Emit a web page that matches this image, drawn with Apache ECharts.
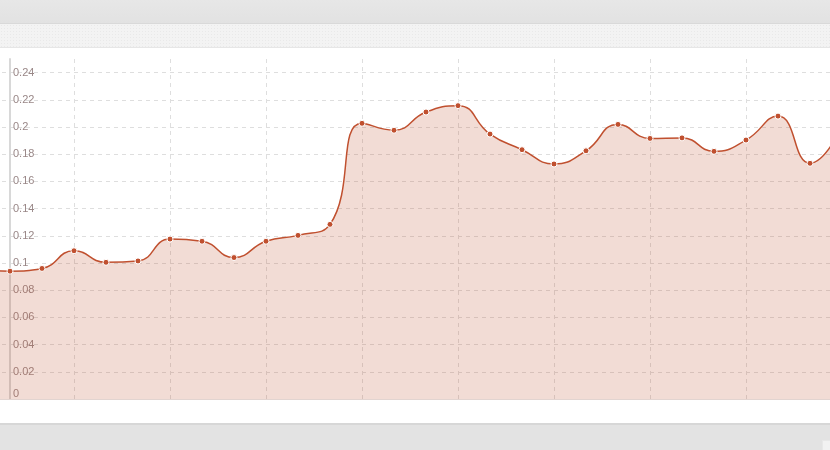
<!DOCTYPE html>
<html>
<head>
<meta charset="utf-8">
<script src="https://cdn.jsdelivr.net/npm/echarts@6/dist/echarts.min.js"></script>
<style>
  html, body { margin: 0; padding: 0; width: 830px; height: 450px; overflow: hidden; background: #fff; }
  #topbar { position: absolute; left: 0; top: 0; width: 830px; height: 23px;
    background: linear-gradient(#e7e7e7, #e2e2e2); border-bottom: 1px solid #d9d9d9; }
  #band { position: absolute; left: 0; top: 24px; width: 830px; height: 23px;
    background-color: #f3f3f3;
    background-image: radial-gradient(#e9e9e9 0.6px, transparent 0.8px);
    background-size: 3px 3px; border-bottom: 1px solid #e6e6e6; }
  #footer { position: absolute; left: 0; top: 423px; width: 830px; height: 27px;
    background: #e3e3e3; border-top: 2px solid #d7d7d7; box-sizing: border-box; }
  #corner { position: absolute; left: 822px; top: 440px; width: 8px; height: 10px;
    background: #f2f2f2; border-left: 1px solid #e8e8e8; border-top: 1px solid #e8e8e8; }
  #viewport { position: absolute; left: 0; top: 48px; width: 830px; height: 374px; overflow: hidden; }
  /* the plot is wider than the view: it starts and ends one period outside */
  #chart { position: absolute; left: -40px; top: -48px; width: 920px; height: 450px; }
</style>
</head>
<body>
<div id="topbar"></div>
<div id="band"></div>
<div id="footer"></div>
<div id="corner"></div>
<div id="viewport"><div id="chart"></div></div>
<script>
// Periods along the horizontal axis (the first and last sit just outside the view)
const categories = ['1', '2', '3', '4', '5', '6', '7', '8', '9', '10', '11', '12', '13', '14',
  '15', '16', '17', '18', '19', '20', '21', '22', '23', '24', '25', '26', '27', '28'];

// Measured rate per period
const values = [0.095, 0.094, 0.096, 0.109, 0.1005, 0.1015, 0.1176, 0.116, 0.104, 0.116,
  0.1203, 0.1284, 0.2027, 0.1976, 0.211, 0.2157, 0.1948, 0.1833, 0.1728, 0.1825,
  0.2019, 0.1916, 0.192, 0.1821, 0.1904, 0.208, 0.1733, 0.2];

// Value axis range and tick step
const yMin = 0;
const yMax = 0.25;
const yStep = 0.02;

const lineColor = '#c0502f';
const gridColor = '#dedede';

const chart = echarts.init(document.getElementById('chart'), null, { renderer: 'canvas' });

// One colour per horizontal split line; the line at the top edge stays hidden
const tickCount = Math.floor((yMax - yMin) / yStep + 1e-9) + 1;
const hLineColors = [];
for (let i = 0; i < tickCount; i++) hLineColors.push(gridColor);
hLineColors.push('rgba(0,0,0,0)');

chart.setOption({
  animation: false,
  grid: { left: 18, width: 864, top: 59, bottom: 51, containLabel: false },
  xAxis: {
    type: 'category',
    data: categories,
    boundaryGap: false,
    axisLine: { show: true, lineStyle: { color: '#e2d4d0', width: 1 } },
    axisTick: { show: false },
    axisLabel: { show: false },
    splitLine: { show: true, interval: 2, lineStyle: { color: gridColor, type: [4, 4], width: 1 } }
  },
  yAxis: {
    type: 'value',
    min: yMin,
    max: yMax,
    interval: yStep,
    offset: -32,
    axisLine: { show: true, lineStyle: { color: '#d8d8d8', width: 2 } },
    axisTick: { show: false },
    axisLabel: {
      inside: true,
      margin: 3,
      color: '#998787',
      fontSize: 11,
      fontFamily: 'Liberation Sans, Arial, sans-serif',
      showMaxLabel: false,
      verticalAlignMinLabel: 'bottom'
    },
    splitLine: { show: true, lineStyle: { color: hLineColors, type: [4, 4], width: 1 } }
  },
  series: [{
    type: 'line',
    data: values,
    smooth: 0.5,
    symbol: 'circle',
    symbolSize: 6,
    showSymbol: true,
    lineStyle: { color: lineColor, width: 1.5 },
    itemStyle: { color: lineColor, borderColor: '#ffffff', borderWidth: 1 },
    areaStyle: { color: 'rgba(192,80,47,0.2)', opacity: 1 }
  }]
});
</script>
</body>
</html>
